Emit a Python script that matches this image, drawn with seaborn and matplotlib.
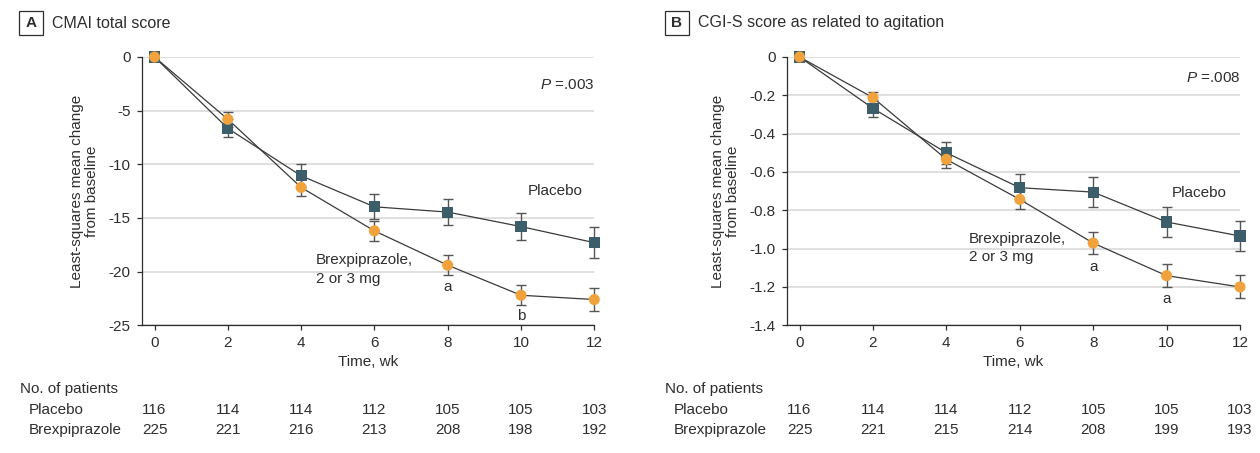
import numpy as np
import pandas as pd
import matplotlib
matplotlib.use("Agg")
from matplotlib import pyplot as plt
from matplotlib import transforms
from matplotlib.patches import Rectangle
import seaborn as sns

# values
weeks = [0, 2, 4, 6, 8, 10, 12]

cmai_placebo = [0, -6.65, -11.07, -13.96, -14.45, -15.8, -17.3]
cmai_placebo_se = [0, 0.85, 1.07, 1.18, 1.25, 1.25, 1.45]
cmai_brex = [0, -5.8, -12.15, -16.2, -19.4, -22.2, -22.6]
cmai_brex_se = [0, 0.7, 0.8, 0.92, 0.95, 0.95, 1.05]

cgis_placebo = [0, -0.268, -0.5, -0.682, -0.705, -0.861, -0.934]
cgis_placebo_se = [0, 0.045, 0.058, 0.07, 0.08, 0.08, 0.08]
cgis_brex = [0, -0.212, -0.534, -0.743, -0.971, -1.141, -1.2]
cgis_brex_se = [0, 0.03, 0.046, 0.048, 0.057, 0.06, 0.06]

n_placebo_a = [116, 114, 114, 112, 105, 105, 103]
n_brex_a = [225, 221, 216, 213, 208, 198, 192]
n_placebo_b = [116, 114, 114, 112, 105, 105, 103]
n_brex_b = [225, 221, 215, 214, 208, 199, 193]

cmai_yticks = [0, -5, -10, -15, -20, -25]
cgis_yticks = [0, -0.2, -0.4, -0.6, -0.8, -1.0, -1.2, -1.4]
cgis_yticklabels = ["0", "-0.2", "-0.4", "-0.6", "-0.8", "-1.0", "-1.2", "-1.4"]

sns.set_theme(style="white")
plt.rcParams["font.family"] = ["Liberation Sans", "DejaVu Sans"]
plt.rcParams["axes.unicode_minus"] = False
plt.rcParams["mathtext.fontset"] = "custom"
plt.rcParams["mathtext.it"] = "Liberation Sans:italic"
plt.rcParams["mathtext.rm"] = "Liberation Sans"

TXT = "#2e2e2e"
FS = 11
PLACEBO_C = "#3c5d6a"
BREX_C = "#f0a23c"
LINE_C = "#3a3a3a"
ERR_C = "#555555"

W, H = 1260, 453
fig = plt.figure(figsize=(12.6, 4.53), dpi=100)


def fx(px):
    return px / W


def fy(py):
    return 1 - py / H


def draw_panel(ax, placebo, placebo_se, brex, brex_se, yticks, yticklabels, ylim):
    df = pd.DataFrame({
        "week": weeks * 2,
        "value": placebo + brex,
        "group": ["Placebo"] * len(weeks) + ["Brexpiprazole"] * len(weeks),
    })
    ax.yaxis.grid(True, color="#dcdcdc", linewidth=1.3, zorder=0)
    ax.set_axisbelow(True)
    # connecting lines
    for g in ["Placebo", "Brexpiprazole"]:
        sns.lineplot(data=df[df.group == g], x="week", y="value", color=LINE_C,
                     linewidth=0.9, ax=ax, zorder=2, legend=False)
    # error bars (skip baseline)
    ax.errorbar(weeks[1:], placebo[1:], yerr=placebo_se[1:], fmt="none",
                ecolor=ERR_C, elinewidth=1.0, capsize=3.6, capthick=1.0, zorder=3,
                clip_on=False)
    ax.errorbar(weeks[1:], brex[1:], yerr=brex_se[1:], fmt="none",
                ecolor=ERR_C, elinewidth=1.0, capsize=3.6, capthick=1.0, zorder=3,
                clip_on=False)
    # markers, brexpiprazole drawn first so placebo squares sit on top
    sns.scatterplot(data=df, x="week", y="value", hue="group", style="group",
                    hue_order=["Brexpiprazole", "Placebo"],
                    style_order=["Brexpiprazole", "Placebo"],
                    palette={"Placebo": PLACEBO_C, "Brexpiprazole": BREX_C},
                    markers={"Placebo": "s", "Brexpiprazole": "o"},
                    s=64, linewidth=0, ax=ax, zorder=4, legend=False, clip_on=False)
    ax.set_xlim(-0.35, 12)
    ax.set_ylim(*ylim)
    ax.set_xticks(weeks)
    ax.set_yticks(yticks)
    ax.set_yticklabels(yticklabels)
    for s in ["top", "right"]:
        ax.spines[s].set_visible(False)
    for s in ["left", "bottom"]:
        ax.spines[s].set_color(TXT)
        ax.spines[s].set_linewidth(0.9)
    ax.tick_params(axis="both", direction="out", length=3.5, width=0.9,
                   color=TXT, labelcolor=TXT, labelsize=FS, pad=4.5,
                   left=True, bottom=True)
    ax.set_xlabel("Time, wk", fontsize=FS, color=TXT, labelpad=3)
    ax.set_ylabel("Least-squares mean change\nfrom baseline", fontsize=FS,
                  color=TXT, labelpad=7, linespacing=1.1)


def patients_table(ax, n_placebo, n_brex, spine_px):
    tr = transforms.blended_transform_factory(ax.transData, fig.transFigure)
    fig.text(fx(spine_px - 122), fy(389), "No. of patients", fontsize=FS,
             color=TXT, ha="left", va="center")
    fig.text(fx(spine_px - 113), fy(410), "Placebo", fontsize=FS,
             color=TXT, ha="left", va="center")
    fig.text(fx(spine_px - 113), fy(430), "Brexpiprazole", fontsize=FS,
             color=TXT, ha="left", va="center")
    for w, a, b in zip(weeks, n_placebo, n_brex):
        ax.text(w, fy(410), str(a), transform=tr, fontsize=FS, color=TXT,
                ha="center", va="center", clip_on=False)
        ax.text(w, fy(430), str(b), transform=tr, fontsize=FS, color=TXT,
                ha="center", va="center", clip_on=False)


def panel_title(box_left, letter, title):
    fig.patches.append(Rectangle((fx(box_left), fy(34.5)), 24 / W, 23.5 / H,
                                 transform=fig.transFigure, fill=False,
                                 edgecolor=TXT, linewidth=0.9))
    fig.text(fx(box_left + 12), fy(23), letter, fontsize=FS, fontweight="bold",
             color=TXT, ha="center", va="center")
    fig.text(fx(box_left + 33), fy(23), title, fontsize=11.5, color=TXT,
             ha="left", va="center")


ax_top, ax_bot = 57, 325.3
ax_a = fig.add_axes([fx(141.7), fy(ax_bot), (594.3 - 141.7) / W, (ax_bot - ax_top) / H])
ax_b = fig.add_axes([fx(786.7), fy(ax_bot), (1240 - 786.7) / W, (ax_bot - ax_top) / H])

# Panel A
draw_panel(ax_a, cmai_placebo, cmai_placebo_se, cmai_brex, cmai_brex_se,
           cmai_yticks, [str(t) for t in cmai_yticks], (-25, 0))
ax_a.text(12, -2.6, "$P$ =.003", fontsize=FS, color=TXT, ha="right", va="center")
ax_a.text(10.18, -12.5, "Placebo", fontsize=FS, color=TXT, ha="left", va="center")
ax_a.text(4.41, -19.8, "Brexpiprazole,\n2 or 3 mg", fontsize=FS, color=TXT,
          ha="left", va="center", linespacing=1.4)
ax_a.text(8, -21.4, "a", fontsize=FS, color=TXT, ha="center", va="center")
ax_a.text(10, -24.15, "b", fontsize=FS, color=TXT, ha="center", va="center")
patients_table(ax_a, n_placebo_a, n_brex_a, 141.7)
panel_title(19, "A", "CMAI total score")

# Panel B
draw_panel(ax_b, cgis_placebo, cgis_placebo_se, cgis_brex, cgis_brex_se,
           cgis_yticks, cgis_yticklabels, (-1.4, 0))
ax_b.text(12, -0.108, "$P$ =.008", fontsize=FS, color=TXT, ha="right", va="center")
ax_b.text(10.15, -0.708, "Placebo", fontsize=FS, color=TXT, ha="left", va="center")
ax_b.text(4.62, -0.997, "Brexpiprazole,\n2 or 3 mg", fontsize=FS, color=TXT,
          ha="left", va="center", linespacing=1.4)
ax_b.text(8, -1.098, "a", fontsize=FS, color=TXT, ha="center", va="center")
ax_b.text(10, -1.263, "a", fontsize=FS, color=TXT, ha="center", va="center")
patients_table(ax_b, n_placebo_b, n_brex_b, 786.7)
panel_title(664.5, "B", "CGI-S score as related to agitation")

fig.savefig("out.png", dpi=100)
